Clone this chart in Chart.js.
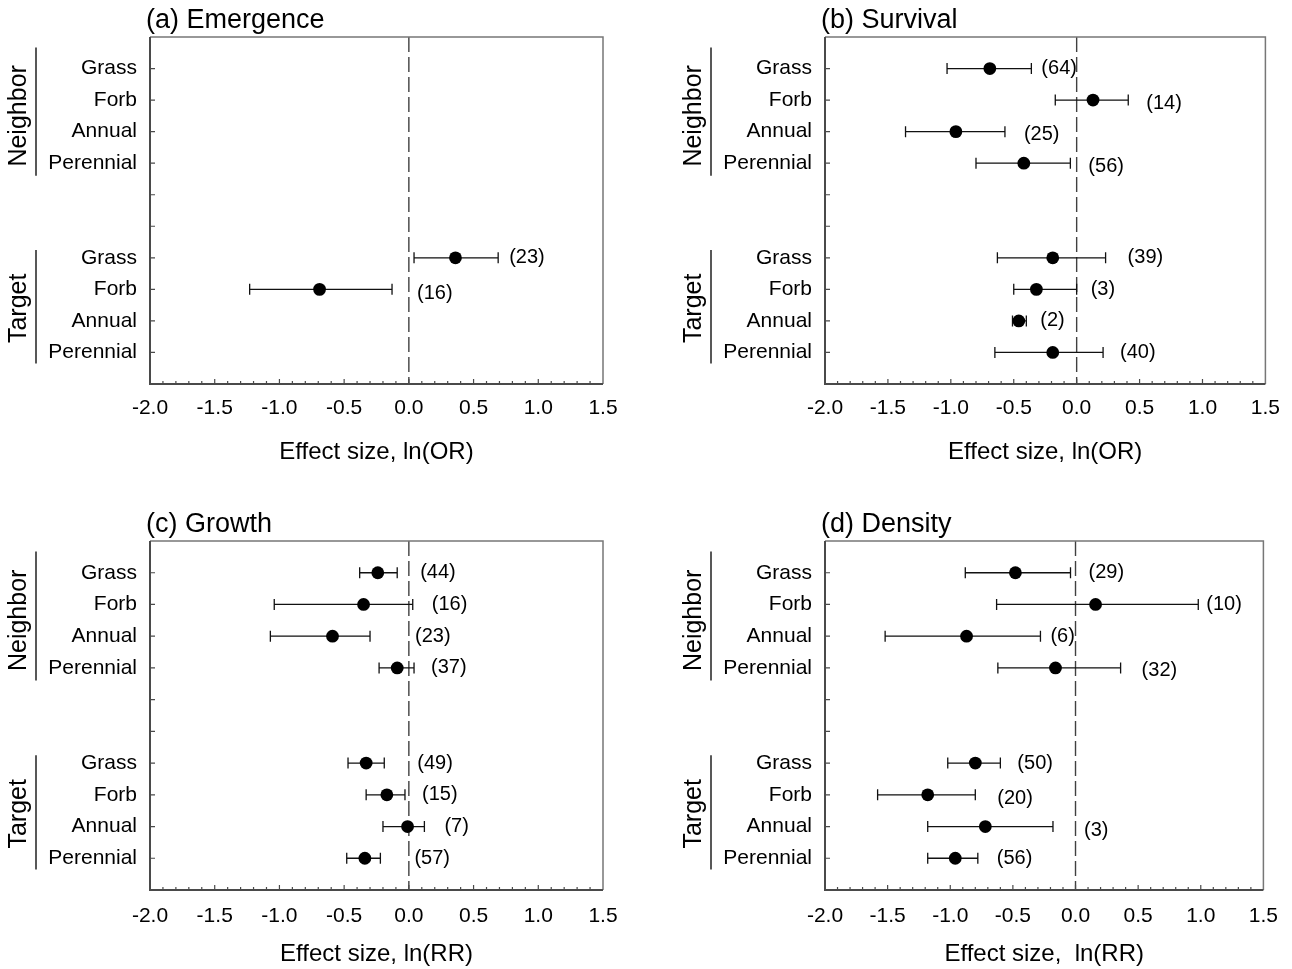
<!DOCTYPE html>
<html>
<head>
<meta charset="utf-8">
<title>Effect sizes</title>
<script src="https://cdn.jsdelivr.net/npm/chart.js@4.4.0/dist/chart.umd.min.js"></script>
<style>
  html, body { margin: 0; padding: 0; background: #fff; }
  #wrap { position: relative; width: 1292px; height: 969px; }
  canvas { position: absolute; }
</style>
</head>
<body>
<div id="wrap">
  <canvas id="chartA" width="646" height="484" style="left:0;top:0"></canvas>
  <canvas id="chartB" width="646" height="484" style="left:646px;top:0"></canvas>
  <canvas id="chartC" width="646" height="485" style="left:0;top:484px"></canvas>
  <canvas id="chartD" width="646" height="485" style="left:646px;top:484px"></canvas>
</div>
<script>
// categories: 4 rows for the Neighbor group, then 4 for the Target group
const rowLabels = ['Grass', 'Forb', 'Annual', 'Perennial'];
const groupLabels = ['Neighbor', 'Target'];
const rowPositions = [1, 2, 3, 4, 7, 8, 9, 10];
const xMin = -2.0, xMax = 1.5, xStep = 0.5;

// (a) Emergence, ln(OR)
const emergenceMean = [null, null, null, null, 0.36, -0.69, null, null];
const emergenceLow  = [null, null, null, null, 0.04, -1.23, null, null];
const emergenceHigh = [null, null, null, null, 0.69, -0.13, null, null];
const emergenceN    = [null, null, null, null, 23, 16, null, null];

// (b) Survival, ln(OR)
const survivalMean = [-0.69, 0.13, -0.96, -0.42, -0.19, -0.32, -0.46, -0.19];
const survivalLow  = [-1.03, -0.17, -1.36, -0.80, -0.63, -0.50, -0.51, -0.65];
const survivalHigh = [-0.36, 0.41, -0.57, -0.05, 0.23, 0.00, -0.40, 0.21];
const survivalN    = [64, 14, 25, 56, 39, 3, 2, 40];

// (c) Growth, ln(RR)
const growthMean = [-0.24, -0.35, -0.59, -0.09, -0.33, -0.17, -0.01, -0.34];
const growthLow  = [-0.38, -1.04, -1.07, -0.23, -0.47, -0.33, -0.20, -0.48];
const growthHigh = [-0.09, 0.03, -0.30, 0.04, -0.19, -0.03, 0.12, -0.22];
const growthN    = [44, 16, 23, 37, 49, 15, 7, 57];

// (d) Density, ln(RR)
const densityMean = [-0.48, 0.16, -0.87, -0.16, -0.80, -1.18, -0.72, -0.96];
const densityLow  = [-0.88, -0.63, -1.52, -0.62, -1.02, -1.58, -1.18, -1.18];
const densityHigh = [-0.04, 0.98, -0.28, 0.36, -0.60, -0.80, -0.18, -0.78];
const densityN    = [29, 10, 6, 32, 50, 20, 3, 56];

const FONT = '"Liberation Sans", Arial, Helvetica, sans-serif';

// tick text for y positions 0..11
function yTickText(v) {
  const i = rowPositions.indexOf(Math.round(v));
  return i < 0 ? '' : rowLabels[i % 4];
}

const decor = {
  id: 'decor',
  beforeDatasetsDraw(chart, args, o) {
    const { ctx, chartArea: a, scales: { x, y } } = chart;
    ctx.save();
    // dashed zero line
    const x0 = x.getPixelForValue(0);
    ctx.strokeStyle = '#404040';
    ctx.lineWidth = 1.4;
    ctx.setLineDash([15, 5]);
    ctx.beginPath();
    ctx.moveTo(x0, a.top);
    ctx.lineTo(x0, a.bottom);
    ctx.stroke();
    ctx.setLineDash([]);

    // confidence intervals
    ctx.strokeStyle = '#111';
    ctx.lineWidth = 1.3;
    o.low.forEach((lo, i) => {
      if (lo === null) return;
      const py = y.getPixelForValue(rowPositions[i]);
      const pl = x.getPixelForValue(lo);
      const ph = x.getPixelForValue(o.high[i]);
      ctx.beginPath();
      ctx.moveTo(pl, py); ctx.lineTo(ph, py);
      ctx.moveTo(pl, py - 5.5); ctx.lineTo(pl, py + 5.5);
      ctx.moveTo(ph, py - 5.5); ctx.lineTo(ph, py + 5.5);
      ctx.stroke();
    });
    ctx.restore();
  },
  afterDraw(chart, args, o) {
    const { ctx, chartArea: a, scales: { x, y } } = chart;
    ctx.save();

    // frame
    ctx.strokeStyle = '#777';
    ctx.lineWidth = 1.5;
    ctx.beginPath();
    ctx.moveTo(a.left, a.top); ctx.lineTo(a.right, a.top); ctx.lineTo(a.right, a.bottom);
    ctx.stroke();
    ctx.strokeStyle = '#4a4a4a';
    ctx.lineWidth = 2;
    ctx.beginPath();
    ctx.moveTo(a.left, a.top); ctx.lineTo(a.left, a.bottom); ctx.lineTo(a.right, a.bottom);
    ctx.stroke();

    // inward ticks
    ctx.lineWidth = 1.2;
    ctx.beginPath();
    for (let k = 1; k <= 10; k++) {
      const py = y.getPixelForValue(k);
      ctx.moveTo(a.left, py); ctx.lineTo(a.left + 5, py);
    }
    for (let k = Math.round(xMin * 10) + 1; k < Math.round(xMax * 10); k++) {
      const px = x.getPixelForValue(k / 10);
      const len = k % 5 === 0 ? 5 : 3;
      ctx.moveTo(px, a.bottom); ctx.lineTo(px, a.bottom - len);
    }
    ctx.stroke();

    // panel title
    ctx.fillStyle = '#000';
    ctx.font = '27px ' + FONT;
    ctx.textAlign = 'left';
    ctx.textBaseline = 'alphabetic';
    ctx.fillText(o.title, a.left - 4, a.top - 9);

    // group labels and brackets
    ctx.strokeStyle = '#222';
    ctx.lineWidth = 1.5;
    ctx.beginPath();
    ctx.moveTo(a.left - 114, y.getPixelForValue(0.33));
    ctx.lineTo(a.left - 114, y.getPixelForValue(4.4));
    ctx.moveTo(a.left - 114, y.getPixelForValue(6.75));
    ctx.lineTo(a.left - 114, y.getPixelForValue(10.35));
    ctx.stroke();
    ctx.font = '25px ' + FONT;
    ctx.textAlign = 'center';
    [[groupLabels[0], 2.5], [groupLabels[1], 8.6]].forEach(([txt, pos]) => {
      ctx.save();
      ctx.translate(a.left - 124, y.getPixelForValue(pos));
      ctx.rotate(-Math.PI / 2);
      ctx.fillText(txt, 0, 0);
      ctx.restore();
    });

    // sample sizes
    ctx.font = '20px ' + FONT;
    ctx.textAlign = 'left';
    ctx.textBaseline = 'middle';
    o.n.forEach((n, i) => {
      if (n === null) return;
      const px = x.getPixelForValue(o.high[i]) + o.gap[i];
      const py = y.getPixelForValue(rowPositions[i]) + o.dy[i];
      ctx.fillText('(' + n + ')', px, py);
    });
    ctx.restore();
  }
};

function makePanel(id, geo, title, axisTitle, mean, low, high, n, gap, dy) {
  const points = [];
  mean.forEach((m, i) => { if (m !== null) points.push({ x: m, y: rowPositions[i] }); });
  return new Chart(document.getElementById(id), {
    type: 'scatter',
    data: {
      datasets: [{
        data: points,
        pointRadius: 6.4,
        pointHoverRadius: 6.4,
        backgroundColor: '#000',
        borderWidth: 0
      }]
    },
    options: {
      responsive: false,
      animation: false,
      layout: { padding: { left: 0, top: geo.top, right: geo.W - geo.right, bottom: 0 } },
      plugins: {
        legend: { display: false },
        tooltip: { enabled: false },
        decor: { title, low, high, n, gap, dy }
      },
      scales: {
        x: {
          type: 'linear',
          min: xMin,
          max: xMax,
          grid: { display: false, drawTicks: false },
          border: { display: false },
          afterFit: s => { s.height = geo.H - geo.bottom; },
          ticks: {
            stepSize: xStep,
            padding: geo.tickPad,
            color: '#000',
            font: { family: FONT, size: 21 },
            callback: v => v.toFixed(1)
          },
          title: {
            display: true,
            text: axisTitle,
            color: '#000',
            font: { family: FONT, size: 24, lineHeight: 1.0 },
            padding: { top: 0, bottom: geo.titlePad }
          }
        },
        y: {
          type: 'linear',
          min: 0,
          max: 11,
          reverse: true,
          grid: { display: false, drawTicks: false },
          border: { display: false },
          afterFit: s => { s.width = geo.left; },
          ticks: {
            stepSize: 1,
            autoSkip: false,
            padding: 13,
            color: '#000',
            font: { family: FONT, size: 21 },
            callback: v => yTickText(v)
          }
        }
      }
    },
    plugins: [decor]
  });
}

const geoA = { W: 646, H: 484, left: 150, right: 603, top: 37, bottom: 384, tickPad: 12, titlePad: 20 };
const geoB = { W: 646, H: 484, left: 179, right: 628, top: 37, bottom: 384, tickPad: 12, titlePad: 20 };
const geoC = { W: 646, H: 485, left: 150, right: 603, top: 57, bottom: 406, tickPad: 14, titlePad: 3 };
const geoD = { W: 646, H: 485, left: 179, right: 628, top: 57, bottom: 406, tickPad: 14, titlePad: 3 };

makePanel('chartA', geoA, '(a) Emergence', 'Effect size, ln(OR)',
  emergenceMean, emergenceLow, emergenceHigh, emergenceN,
  [0, 0, 0, 0, 11, 25, 0, 0], [0, 0, 0, 0, 0, 4, 0, 0]);
makePanel('chartB', geoB, '(b) Survival', 'Effect size, ln(OR)',
  survivalMean, survivalLow, survivalHigh, survivalN,
  [10, 18, 19, 18, 22, 14, 14, 17], [0, 3, 3, 3, 0, 0, 0, 0]);
makePanel('chartC', geoC, '(c) Growth', 'Effect size, ln(RR)',
  growthMean, growthLow, growthHigh, growthN,
  [23, 19, 45, 17, 33, 17, 20, 34], [0, 0, 0, 0, 0, 0, 0, 0]);
makePanel('chartD', geoD, '(d) Density', 'Effect size,  ln(RR)',
  densityMean, densityLow, densityHigh, densityN,
  [18, 8, 10, 21, 17, 22, 31, 19], [0, 0, 0, 3, 0, 4, 4, 0]);
</script>
</body>
</html>
